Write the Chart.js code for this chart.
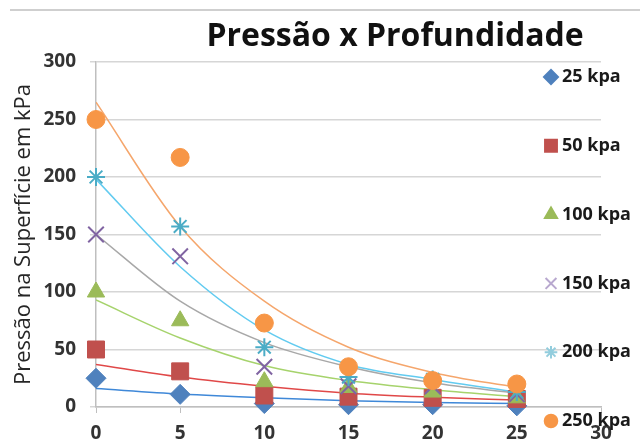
<!DOCTYPE html>
<html lang="pt">
<head>
    <meta charset="UTF-8">
    <title>Pressão x Profundidade</title>
    <script src="https://cdn.jsdelivr.net/npm/chart.js"></script>
    <style>
        body {
            margin: 0;
            padding: 0;
            background: #fff;
        }
        .container {
            width: 640px;
            height: 445px;
            position: relative;
        }
    </style>
</head>
<body>
    <div class="container">
        <canvas id="pressaoChart"></canvas>
    </div>
    <script>
        // profundidade (eixo x)
        const profundidade = [0, 5, 10, 15, 20, 25];

        // pontos medidos
        const p25 = [25, 11, 3, 2, 2, 1];
        const p50 = [50, 31, 10, 9, 8, 7];
        const p100 = [100, 75, 22, 17, 13, 8];
        const p150 = [150, 131, 35, 18, 18, 11];
        const p200 = [200, 157, 52, 26, 24, 13];
        const p250 = [250, 217, 73, 35, 23, 20];

        // linhas de tendencia
        const t25 = [16, 11.3, 8, 5.5, 4, 3];
        const t50 = [37, 26, 18, 12, 8.5, 6];
        const t100 = [93, 60, 36, 23, 15, 9];
        const t150 = [150, 92, 56, 35, 21, 12];
        const t200 = [198, 122, 67, 37, 24, 13];
        const t250 = [265, 157, 92, 52, 30, 17];

        const rotulos = ['25 kpa', '50 kpa', '100 kpa', '150 kpa', '200 kpa', '250 kpa'];
        const yTicks = [0, 50, 100, 150, 200, 250, 300];
        const xTicks = [0, 5, 10, 15, 20, 25, 30];

        const FONTE = '"Open Sans", "DejaVu Sans", sans-serif';

        const series = [
            { dados: p25, tend: t25, cor: '#4f81bd', linha: '#3f88d8', estilo: 'rectRot', raio: 10, legCor: '#4f81bd' },
            { dados: p50, tend: t50, cor: '#c0504d', linha: '#e04848', estilo: 'rect', raio: 12, legCor: '#c0504d' },
            { dados: p100, tend: t100, cor: '#9bbb59', linha: '#a6d36c', estilo: 'triangle', raio: 10, legCor: '#9bbb59' },
            { dados: p150, tend: t150, cor: '#8064a2', linha: '#a8a8a8', estilo: 'crossRot', raio: 11, legCor: '#b8a8cf' },
            { dados: p200, tend: t200, cor: '#4bacc6', linha: '#62cbf0', estilo: 'star', raio: 9, legCor: '#93cddd' },
            { dados: p250, tend: t250, cor: '#f79646', linha: '#f5a66c', estilo: 'circle', raio: 9, legCor: '#f79646' }
        ];

        const pares = (xs, ys) => xs.map((x, i) => ({ x: x, y: ys[i] }));
        const fino = (estilo) => estilo === 'crossRot' || estilo === 'star';

        const datasets = [];
        series.forEach((s, i) => {
            datasets.push({
                type: 'scatter',
                label: rotulos[i],
                data: pares(profundidade, s.dados),
                pointStyle: s.estilo,
                pointRadius: s.raio,
                pointHoverRadius: s.raio,
                backgroundColor: s.cor,
                borderColor: s.cor,
                pointBorderWidth: fino(s.estilo) ? 2 : 1,
                showLine: false,
                clip: false,
                order: 6 - i
            });
        });
        series.forEach((s, i) => {
            datasets.push({
                type: 'line',
                label: 'tend ' + rotulos[i],
                data: pares(profundidade, s.tend),
                borderColor: s.linha,
                borderWidth: 1.5,
                pointRadius: 0,
                fill: false,
                cubicInterpolationMode: 'monotone',
                order: 10
            });
        });

        // titulo, moldura e legenda desenhados a mao
        const extras = {
            id: 'extras',
            afterDraw(chart) {
                const ctx = chart.ctx;
                ctx.save();
                ctx.strokeStyle = '#cfcfcf';
                ctx.lineWidth = 2;
                ctx.beginPath();
                ctx.moveTo(10, 10);
                ctx.lineTo(640, 10);
                ctx.stroke();

                ctx.fillStyle = '#111';
                ctx.font = 'bold 32px ' + FONTE;
                ctx.textAlign = 'center';
                ctx.textBaseline = 'middle';
                ctx.fillText('Pressão x Profundidade', 395, 37);

                ctx.font = 'bold 18px ' + FONTE;
                ctx.textAlign = 'left';
                series.forEach((s, i) => {
                    const y = 77 + i * 68.8;
                    ctx.fillStyle = s.legCor;
                    ctx.strokeStyle = s.legCor;
                    Chart.helpers.drawPoint(ctx, {
                        pointStyle: s.estilo,
                        radius: s.raio * 0.7,
                        borderWidth: fino(s.estilo) ? 1.5 : 1,
                        rotation: 0
                    }, 551, y);
                    ctx.fillStyle = '#1a1a1a';
                    ctx.fillText(rotulos[i], 562, y);
                });
                ctx.restore();
            }
        };

        const ctx1 = document.getElementById('pressaoChart').getContext('2d');
        new Chart(ctx1, {
            data: { datasets: datasets },
            options: {
                responsive: true,
                maintainAspectRatio: false,
                animation: false,
                layout: {
                    padding: { top: 62, right: 39, left: 0, bottom: 0 }
                },
                plugins: {
                    legend: { display: false },
                    tooltip: { enabled: false }
                },
                scales: {
                    x: {
                        type: 'linear',
                        min: 0,
                        max: 30,
                        afterBuildTicks: (axis) => { axis.ticks = xTicks.map(v => ({ value: v })); },
                        afterFit: (axis) => { axis.height = 38; },
                        grid: {
                            drawOnChartArea: false,
                            drawTicks: true,
                            tickLength: 6,
                            color: '#bfbfbf'
                        },
                        border: { color: '#bfbfbf', width: 1.5 },
                        ticks: {
                            color: '#333',
                            padding: 9,
                            font: { family: FONTE, size: 19, weight: 'bold' }
                        }
                    },
                    y: {
                        min: 0,
                        max: 300,
                        afterBuildTicks: (axis) => { axis.ticks = yTicks.map(v => ({ value: v })); },
                        afterFit: (axis) => { axis.width = 96; },
                        grid: {
                            color: '#d6d6d6',
                            lineWidth: 1.5,
                            tickLength: 6
                        },
                        border: { color: '#bfbfbf', width: 1.5 },
                        ticks: {
                            color: '#333',
                            padding: 14,
                            font: { family: FONTE, size: 19, weight: 'bold' }
                        },
                        title: {
                            display: true,
                            text: 'Pressão na Superfície em kPa',
                            color: '#262626',
                            padding: { top: 11, bottom: 0 },
                            font: { family: FONTE, size: 22 }
                        }
                    }
                }
            },
            plugins: [extras]
        });
    </script>
</body>
</html>
